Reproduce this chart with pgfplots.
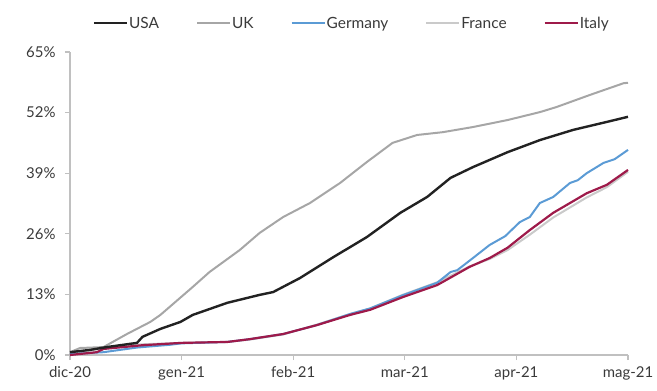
\documentclass[border=0pt]{standalone}
\usepackage{pgfplots}
\pgfplotsset{compat=1.18}
\usepackage{fontspec}
\setmainfont{Lato}
\definecolor{usa}{HTML}{222222}
\definecolor{uk}{HTML}{A6A6A6}
\definecolor{ger}{HTML}{5B9BD5}
\definecolor{fra}{HTML}{CACACA}
\definecolor{ita}{HTML}{9E1A4A}
\definecolor{axgray}{HTML}{C0C0C0}
\definecolor{txt}{HTML}{3A3A3A}
\begin{document}
\begin{tikzpicture}
\begin{axis}[
  scale only axis, width=558bp, height=303bp,
  xmin=0, xmax=5, ymin=0, ymax=65,
  axis x line*=bottom, axis y line*=left,
  axis line style={axgray, line width=1.5bp},
  xtick={0,1,2,3,4,5},
  xticklabels={dic-20,gen-21,feb-21,mar-21,apr-21,mag-21},
  ytick={0,13,26,39,52,65},
  yticklabels={0\%,13\%,26\%,39\%,52\%,65\%},
  tick style={axgray, line width=1.2bp},
  tick align=outside, major tick length=5bp,
  ticklabel style={font=\fontsize{15}{18}\selectfont, text=txt},
  yticklabel style={xshift=-6bp},
  xticklabel style={yshift=-3bp},
  /pgf/number format/assume math mode=true,
  legend columns=5,
  legend style={at={(0.504,1.095)}, anchor=center, draw=none, fill=none,
    font=\fontsize{15.5}{18}\selectfont, text=txt,
    nodes={inner sep=1bp},
    /tikz/every even column/.append style={column sep=36bp}},
  legend image code/.code={\draw[#1] (0bp,0bp) -- (33bp,0bp);},
  clip=false,
]
\addlegendimage{usa, line width=2.4bp}\addlegendentry{USA}
\addlegendimage{uk, line width=2bp}\addlegendentry{UK}
\addlegendimage{ger, line width=2bp}\addlegendentry{Germany}
\addlegendimage{fra, line width=2bp}\addlegendentry{France}
\addlegendimage{ita, line width=2.2bp}\addlegendentry{Italy}
\addplot[uk, line width=2bp, forget plot] coordinates {
(0,0.6)(0.09,1.5)(0.30,1.7)(0.51,4.5)(0.72,7.1)(0.81,8.6)(1.10,14.6)(1.25,17.8)
(1.52,22.5)(1.70,26.2)(1.91,29.6)(2.15,32.6)(2.42,36.9)(2.66,41.4)(2.89,45.5)
(3.11,47.2)(3.34,47.8)(3.61,48.9)(3.92,50.4)(4.21,52.1)(4.36,53.2)(4.66,55.8)
(4.96,58.3)(5.0,58.4)};
\addplot[fra, line width=2bp, forget plot] coordinates {
(0,0.2)(0.3,1.5)(0.65,2.3)(1.0,2.6)(1.41,2.8)(1.61,3.3)(1.91,4.4)(2.21,6.5)
(2.51,8.8)(2.69,10.0)(2.98,12.9)(3.29,15.6)(3.58,19.0)(3.76,20.6)(3.92,22.5)
(4.12,25.8)(4.33,29.5)(4.63,33.8)(4.81,36.0)(5.0,39.3)};
\addplot[ger, line width=2bp, forget plot] coordinates {
(0,0.2)(0.3,0.6)(0.6,1.6)(0.9,2.2)(1.0,2.5)(1.41,2.8)(1.61,3.4)(1.91,4.5)
(2.21,6.4)(2.51,8.8)(2.69,10.0)(2.98,12.8)(3.29,15.5)(3.41,17.8)(3.47,18.2)
(3.60,20.6)(3.76,23.6)(3.90,25.5)(4.03,28.5)(4.12,29.6)(4.21,32.6)(4.33,33.9)
(4.48,36.9)(4.55,37.5)(4.63,39.0)(4.78,41.2)(4.88,42.0)(5.0,44.0)};
\addplot[ita, line width=2.2bp, forget plot] coordinates {
(0,0.0)(0.24,0.6)(0.30,1.3)(0.65,2.1)(1.0,2.6)(1.41,2.8)(1.61,3.4)(1.91,4.5)
(2.21,6.4)(2.51,8.6)(2.69,9.7)(2.98,12.4)(3.29,15.0)(3.58,18.9)(3.76,20.8)
(3.92,23.0)(4.12,26.8)(4.33,30.5)(4.63,34.7)(4.81,36.5)(5.0,39.7)};
\addplot[usa, line width=2.4bp, forget plot] coordinates {
(0,0.6)(0.18,1.1)(0.33,1.7)(0.60,2.6)(0.65,3.9)(0.81,5.6)(0.99,7.1)(1.10,8.6)
(1.41,11.2)(1.70,12.9)(1.82,13.5)(2.06,16.5)(2.36,21.0)(2.66,25.3)(2.96,30.5)
(3.20,33.9)(3.41,38.0)(3.61,40.3)(3.92,43.5)(4.21,46.1)(4.51,48.3)(4.81,50.0)
(5.0,51.1)};
\end{axis}
\pgfresetboundingbox
\useasboundingbox (current axis.south west) ++(-70bp,-36bp) rectangle ++(657bp,391bp);
\end{tikzpicture}
\end{document}
